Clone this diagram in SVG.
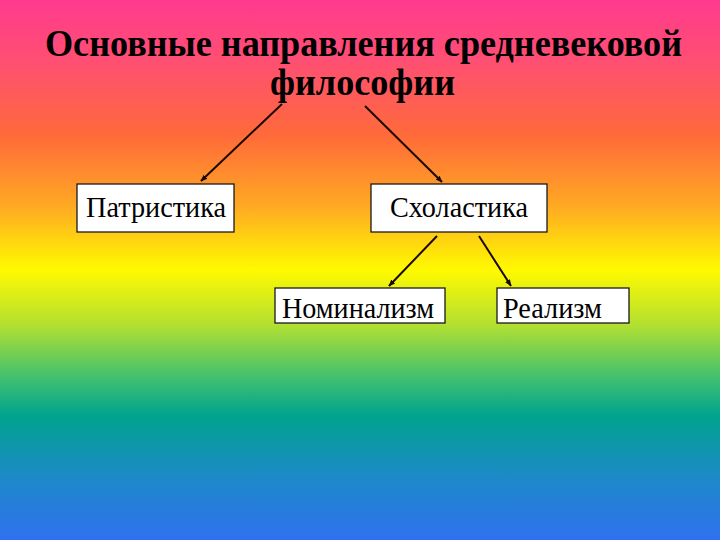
<svg xmlns="http://www.w3.org/2000/svg" width="720" height="540" viewBox="0 0 720 540">
<defs>
<linearGradient id="bg" x1="0" y1="0" x2="0" y2="1">
<stop offset="0" stop-color="#FF3A8E"/>
<stop offset="0.12" stop-color="#FF5070"/>
<stop offset="0.25" stop-color="#FF6A3A"/>
<stop offset="0.38" stop-color="#FFA823"/>
<stop offset="0.5" stop-color="#FFFA00"/>
<stop offset="0.6" stop-color="#B4E030"/>
<stop offset="0.7" stop-color="#40C070"/>
<stop offset="0.77" stop-color="#00A38E"/>
<stop offset="0.88" stop-color="#1C8AC6"/>
<stop offset="1" stop-color="#3070F0"/>
</linearGradient>
<marker id="ah" viewBox="0 0 10 10" refX="9" refY="5" markerWidth="7" markerHeight="7" orient="auto" markerUnits="userSpaceOnUse">
<path d="M0,1 L10,5 L0,9 z" fill="#1a0a00"/>
</marker>
<style>
.box{fill:#fff;stroke:#1a1a1a;stroke-width:1.3}
.lbl{font-family:"Liberation Serif","Times New Roman",serif;font-size:30px;fill:#000}
.ttl{font-family:"Liberation Serif","Times New Roman",serif;font-size:38px;font-weight:bold;fill:#000}
.con{stroke:#1a0a00;stroke-width:2;fill:none;marker-end:url(#ah)}
</style>
</defs>
<rect x="0" y="0" width="720" height="540" fill="url(#bg)"/>
<g id="title">
<text class="ttl" x="45" y="56" textLength="637" lengthAdjust="spacingAndGlyphs">Основные направления средневековой</text>
<text class="ttl" x="270" y="95" textLength="185" lengthAdjust="spacingAndGlyphs">философии</text>
</g>
<g id="connectors">
<line class="con" x1="282" y1="104" x2="201" y2="181"/>
<line class="con" x1="365" y1="106" x2="442" y2="182"/>
<line class="con" x1="437" y1="236" x2="389" y2="286"/>
<line class="con" x1="479" y1="236" x2="511" y2="286"/>
</g>
<g id="patristika">
<rect class="box" x="77" y="184" width="157" height="48"/>
<text class="lbl" x="86" y="217" textLength="140" lengthAdjust="spacingAndGlyphs">Патристика</text>
</g>
<g id="scholastika">
<rect class="box" x="371" y="184" width="176" height="48"/>
<text class="lbl" x="390" y="217" textLength="138" lengthAdjust="spacingAndGlyphs">Схоластика</text>
</g>
<g id="nominalism">
<rect class="box" x="275" y="288" width="170" height="35"/>
<text class="lbl" x="282" y="318" textLength="152" lengthAdjust="spacingAndGlyphs">Номинализм</text>
</g>
<g id="realism">
<rect class="box" x="497" y="288" width="132" height="35"/>
<text class="lbl" x="503" y="318" textLength="99" lengthAdjust="spacingAndGlyphs">Реализм</text>
</g>
</svg>
